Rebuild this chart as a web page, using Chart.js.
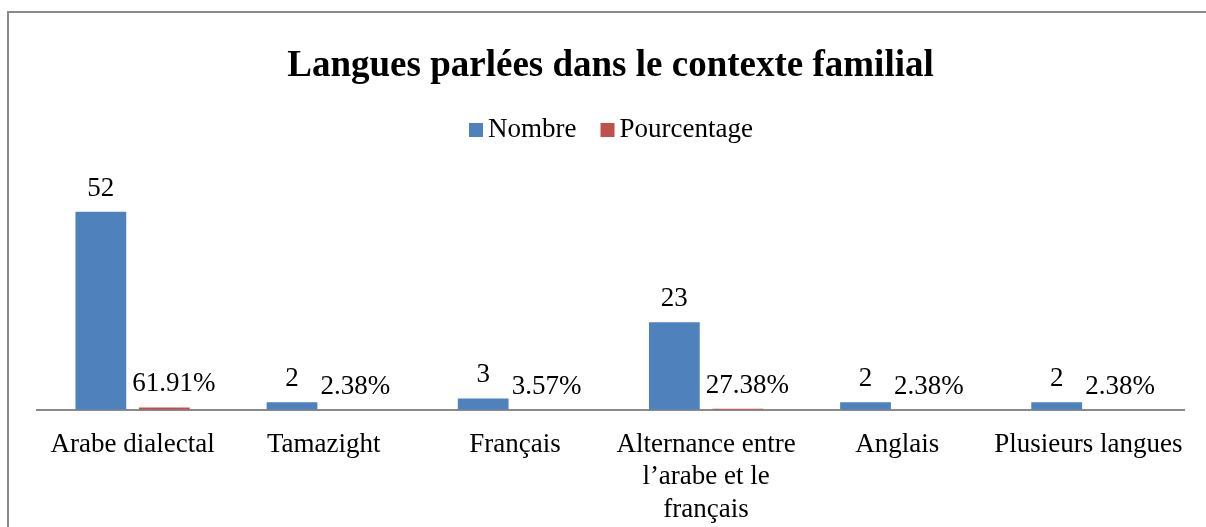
<!DOCTYPE html>
<html>
<head>
<meta charset="utf-8">
<script src="https://cdn.jsdelivr.net/npm/chart.js@4.4.1/dist/chart.umd.min.js"></script>
<style>
  html, body { margin: 0; padding: 0; background: #fff; overflow: hidden; width: 1206px; height: 527px; }
  #frame { position: absolute; left: 7px; top: 11px; width: 1204px; height: 600px;
           border-left: 2px solid #8a8a8a; border-top: 2px solid #8a8a8a; }
  #c { position: absolute; left: 0; top: 0; }
</style>
</head>
<body>
<div id="frame"><canvas id="c" width="1204" height="534"></canvas></div>
<script>
const chartTitle = "Langues parlées dans le contexte familial";
const categories = [
  "Arabe dialectal",
  "Tamazight",
  "Français",
  ["Alternance entre", "l’arabe et le", "français"],
  "Anglais",
  "Plusieurs langues"
];
const seriesNames = ["Nombre", "Pourcentage"];
const nombre = [52, 2, 3, 23, 2, 2];
const pourcentage = [0.6191, 0.0238, 0.0357, 0.2738, 0.0238, 0.0238];

const FONT = "'Liberation Serif', 'Times New Roman', serif";
const BLUE = "#4F81BD";
const RED = "#C0504D";

function fmt(dsIndex, v) {
  return dsIndex === 1 ? (v * 100).toFixed(2) + "%" : String(v);
}

const labelPlugin = {
  id: "barLabels",
  afterDatasetsDraw(chart) {
    const ctx = chart.ctx;
    ctx.save();
    ctx.font = "27px " + FONT;
    ctx.fillStyle = "#000";
    ctx.textAlign = "center";
    ctx.textBaseline = "alphabetic";
    const lift = 16, margin = 6;
    chart.data.datasets.forEach((ds, di) => {
      const meta = chart.getDatasetMeta(di);
      meta.data.forEach((el, i) => {
        const txt = fmt(di, ds.data[i]);
        const w = ctx.measureText(txt).width;
        const y = el.y - lift;
        let x = el.x;
        if (di > 0) {
          // avoid overlapping the previous (taller) bar of the same category
          const prev = chart.getDatasetMeta(di - 1).data[i];
          const prevRight = prev.x + prev.width / 2;
          if (prev.y < y && x - w / 2 < prevRight + margin) {
            x = prevRight + margin + w / 2;
          }
        }
        ctx.fillText(txt, x, y);
      });
    });
    ctx.restore();
  }
};

const legendPlugin = {
  id: "customLegend",
  afterDraw(chart) {
    const ctx = chart.ctx;
    ctx.save();
    ctx.font = "27px " + FONT;
    ctx.textBaseline = "alphabetic";
    ctx.textAlign = "left";
    const box = 14, gap = 5, itemGap = 24;
    const items = chart.data.datasets.map(d => ({ text: d.label, color: d.backgroundColor, w: ctx.measureText(d.label).width }));
    let total = 0;
    items.forEach((it, i) => { total += box + gap + it.w + (i < items.length - 1 ? itemGap : 0); });
    let x = chart.width / 2 - total / 2;
    const baseline = 124;
    items.forEach(it => {
      ctx.fillStyle = it.color;
      ctx.fillRect(x, baseline - box, box, box);
      x += box + gap;
      ctx.fillStyle = "#000";
      ctx.fillText(it.text, x, baseline);
      x += it.w + itemGap;
    });
    ctx.restore();
  }
};

new Chart(document.getElementById("c"), {
  type: "bar",
  data: {
    labels: categories,
    datasets: [
      { label: seriesNames[0], data: nombre, backgroundColor: BLUE, borderWidth: 0 },
      { label: seriesNames[1], data: pourcentage, backgroundColor: RED, borderWidth: 0 }
    ]
  },
  options: {
    responsive: false,
    animation: false,
    layout: { padding: { left: 28, right: 29, top: 0, bottom: 2 } },
    datasets: { bar: { categoryPercentage: 0.664, barPercentage: 0.8 } },
    plugins: {
      legend: { display: false },
      tooltip: { enabled: false },
      title: {
        display: true,
        text: chartTitle,
        color: "#000",
        font: { family: FONT, size: 37, weight: "bold", lineHeight: 1.2 },
        padding: { top: 31, bottom: 93 }
      }
    },
    scales: {
      x: {
        grid: { display: false, drawTicks: false },
        border: { display: true, color: "#8a8a8a", width: 2 },
        ticks: { color: "#000", font: { family: FONT, size: 27, lineHeight: 1.2 }, padding: 19, maxRotation: 0, autoSkip: false }
      },
      y: {
        display: false,
        min: 0,
        max: 60
      }
    }
  },
  plugins: [labelPlugin, legendPlugin]
});
</script>
</body>
</html>
